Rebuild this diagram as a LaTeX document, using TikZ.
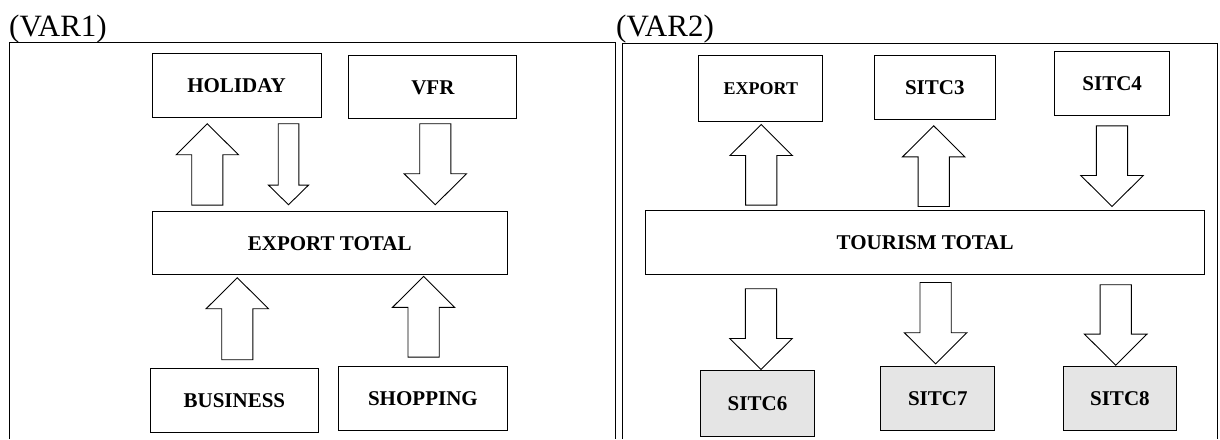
\documentclass[tikz,border=0pt]{standalone}
\usepackage{fontspec}
\setmainfont{Liberation Serif}
\usepackage{tikz}
\usetikzlibrary{calc}
\tikzstyle{box} = [rectangle, draw=black, line width=1pt, fill=white, align=center, inner sep=0pt, font=\bfseries\fontsize{21}{25}\selectfont]
\tikzstyle{grey box} = [box, fill=gray!20]
\tikzstyle{panel} = [draw=black, line width=1pt]
\tikzstyle{title} = [anchor=base west, inner sep=0pt, font=\fontsize{31}{36}\selectfont]
% hollow block arrow: shaft half width, head half width, head length
\tikzset{
  fat/.style n args={3}{draw=black, line width=0.9pt, fill=white,
    to path={($(\tikztotarget)!#3!(\tikztostart)$) coordinate (fat-h)
      ($(\tikztostart)!#1!90:(\tikztotarget)$)
      -- ($(fat-h)!#1!90:(\tikztotarget)$)
      -- ($(fat-h)!#2!90:(\tikztotarget)$)
      -- (\tikztotarget)
      -- ($(fat-h)!#2!-90:(\tikztotarget)$)
      -- ($(fat-h)!#1!-90:(\tikztotarget)$)
      -- ($(\tikztostart)!#1!-90:(\tikztotarget)$)
      -- cycle}},
  flow/.style={fat={15.6pt}{31.2pt}{31pt}},
  thinflow/.style={fat={10.3pt}{20pt}{19.6pt}}
}

\begin{document}
\begin{tikzpicture}[x=1pt, y=1pt]
  \useasboundingbox (0,0) rectangle (1220,439);

  % panel frames (open at the bottom)
  \draw[panel] (9,0) -- (9,396.7) -- (615,396.7) -- (615,0);
  \draw[panel] (622.7,0) -- (622.7,395.7) -- (1217.7,395.7) -- (1217.7,0);
  \node[title] (var1) at (9,402.3) {(VAR1)};
  \node[title] (var2) at (616,402.3) {(VAR2)};

  % VAR1
  \node[box, minimum width=169pt, minimum height=64pt] (hol) at (236.5,353.7) {HOLIDAY};
  \node[box, minimum width=168pt, minimum height=63.3pt] (vfr) at (432.9,351.7) {VFR};
  \node[box, minimum width=355.4pt, minimum height=63.3pt] (exptot) at (329.7,195.7) {EXPORT TOTAL};
  \node[box, minimum width=168.8pt, minimum height=63.6pt] (bus) at (234.4,38.5) {BUSINESS};
  \node[box, minimum width=169pt, minimum height=64.4pt] (shop) at (422.9,40.5) {SHOPPING};

  \draw[flow] ($(exptot.north)+(-122.4,6)$) to ($(hol.south)+(-29.2,-6)$);
  \draw[thinflow] ($(hol.south)+(52,-6)$) to ($(exptot.north)+(-41.2,6.4)$);
  \draw[flow] ($(vfr.south)+(2.4,-4.3)$) to ($(exptot.north)+(105.6,6.4)$);
  \draw[flow] ($(bus.north)+(2.9,8.4)$) to ($(exptot.south)+(-92.4,-2.3)$);
  \draw[flow] ($(shop.north)+(0.7,8.6)$) to ($(exptot.south)+(93.9,-1)$);

  % VAR2
  \node[box, minimum width=124pt, minimum height=65.7pt, font=\bfseries\fontsize{18}{22}\selectfont] (exp) at (760.9,350.8) {EXPORT};
  \node[box, minimum width=120.4pt, minimum height=63.7pt] (sitc3) at (934.8,351.8) {SITC3};
  \node[box, minimum width=115pt, minimum height=64.3pt] (sitc4) at (1112.2,355.8) {SITC4};
  \node[box, minimum width=559.2pt, minimum height=64pt] (tourtot) at (925.1,196) {TOURISM TOTAL};
  \node[grey box, minimum width=114.2pt, minimum height=66.4pt] (sitc6) at (757.5,35.5) {SITC6};
  \node[grey box, minimum width=113.7pt, minimum height=64pt] (sitc7) at (937.8,40.3) {SITC7};
  \node[grey box, minimum width=113.4pt, minimum height=64pt] (sitc8) at (1119.9,40.3) {SITC8};

  \draw[flow] ($(tourtot.north)+(-163.9,5.3)$) to ($(exp.south)+(0.3,-3)$);
  \draw[flow] ($(tourtot.north)+(8.6,4)$) to ($(sitc3.south)+(-1.1,-6.3)$);
  \draw[flow] ($(sitc4.south)+(-0.2,-10)$) to ($(tourtot.north)+(186.9,4)$);
  \draw[flow] ($(tourtot.south)+(-164.1,-13.3)$) to ($(sitc6.north)+(3.5,0.3)$);
  \draw[flow] ($(tourtot.south)+(10.5,-7)$) to ($(sitc7.north)+(-2.2,2.4)$);
  \draw[flow] ($(tourtot.south)+(190.6,-9.3)$) to ($(sitc8.north)+(-4.2,1)$);
\end{tikzpicture}
\end{document}
